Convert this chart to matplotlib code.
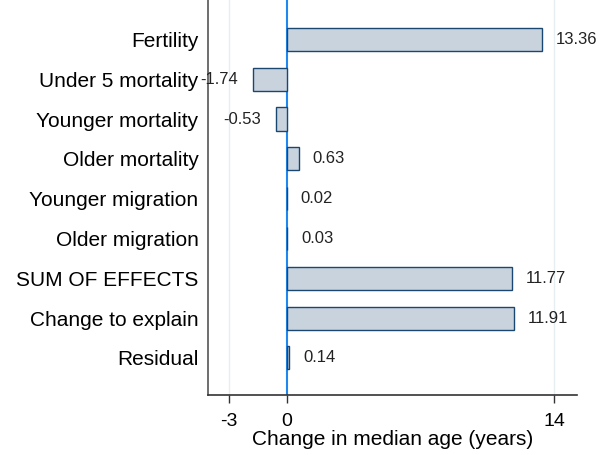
import matplotlib
matplotlib.use('Agg')
import matplotlib.pyplot as plt
import numpy as np

plt.rcParams['font.family'] = ['Liberation Sans', 'DejaVu Sans']

categories = ['Fertility', 'Under 5 mortality', 'Younger mortality', 'Older mortality',
              'Younger migration', 'Older migration', 'SUM OF EFFECTS',
              'Change to explain', 'Residual']
values = [13.36, -1.74, -0.53, 0.63, 0.02, 0.03, 11.77, 11.91, 0.14]
xticks = [-3, 0, 14]

fig = plt.figure(figsize=(6.07, 4.55), dpi=100)
ax = fig.add_axes([0.343, 0.132, 0.607, 0.868])

y = np.arange(len(categories))
ax.barh(y, values, height=0.58, color='#c8d3de', edgecolor='#1a476f', linewidth=1.0, zorder=3)

# grid lines and zero line
for t in xticks:
    if t != 0:
        ax.axvline(t, color='#e6eef1', linewidth=1.0, zorder=1)
ax.axvline(0, color='#1e88f0', linewidth=1.5, zorder=2)

# value labels
for yi, v in zip(y, values):
    if v >= 0:
        ax.annotate(f'{v:.2f}', (v, yi), xytext=(10, 0), textcoords='offset points',
                    ha='left', va='center', fontsize=12, color='#222222', zorder=5)
    else:
        ax.annotate(f'{v:.2f}', (v, yi), xytext=(-11, 0), textcoords='offset points',
                    ha='right', va='center', fontsize=12, color='#222222', zorder=5)

ax.set_xlim(-4.1, 15.17)
ax.set_ylim(8.93, -0.99)
ax.set_yticks(y)
ax.set_yticklabels(categories, fontsize=15)
ax.tick_params(axis='y', length=0, pad=7)
ax.set_xticks(xticks)
ax.set_xticklabels([str(t) for t in xticks], fontsize=14)
ax.tick_params(axis='x', length=6, width=1.0, color='#333333', pad=7)
ax.set_xlabel('Change in median age (years)', fontsize=15, labelpad=0)

ax.spines['top'].set_visible(False)
ax.spines['right'].set_visible(False)
ax.spines['left'].set_color('#555555')
ax.spines['bottom'].set_color('#333333')
ax.spines['left'].set_linewidth(1.2)
ax.spines['bottom'].set_linewidth(1.2)

fig.savefig('out.png', dpi=100)
